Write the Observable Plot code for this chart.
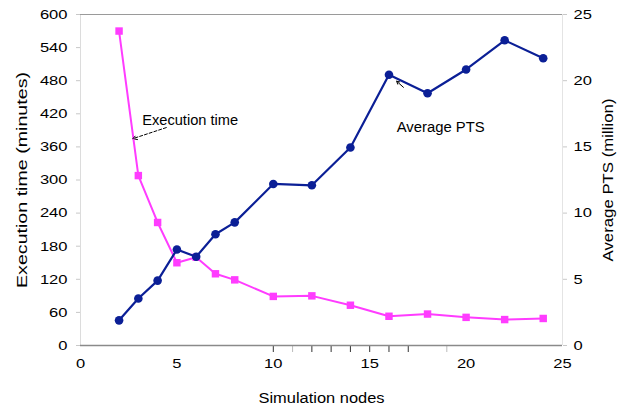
<!DOCTYPE html>
<html>
<head>
<meta charset="utf-8">
<script src="https://cdn.jsdelivr.net/npm/d3@7"></script>
<script src="https://cdn.jsdelivr.net/npm/@observablehq/plot@0.6"></script>
<style>
  html, body { margin: 0; padding: 0; background: #fff; }
  #chart svg { display: block; }
</style>
</head>
<body>
<div id="chart"></div>
<script>
// ---- data ----
const nodes = [2, 3, 4, 5, 6, 7, 8, 10, 12, 14, 16, 18, 20, 22, 24];
const execTime = [570, 308, 223, 150, 160, 130, 119, 89, 90, 73, 53, 57, 51, 47, 49];
const avgPts = [1.9, 3.55, 4.9, 7.25, 6.7, 8.4, 9.3, 12.2, 12.1, 14.95, 20.45, 19.05, 20.85, 23.05, 21.7];

const xTicks = [0, 5, 10, 15, 20, 25];
const leftTicks = [0, 60, 120, 180, 240, 300, 360, 420, 480, 540, 600];
const rightTicks = [0, 5, 10, 15, 20, 25];
const strayTicksDark = [10, 12, 13, 14, 15, 16, 17];
const strayTicksLight = [11, 19];

const xTitle = "Simulation nodes";
const leftTitle = "Execution time (minutes)";
const rightTitle = "Average PTS (million)";

// annotations (data coordinates; y on left scale)
const execLabel = [{x: 3.2, y: 408, text: "Execution time"}];
const execArrow = [{x1: 4.45, y1: 395, x2: 2.72, y2: 375}];
const ptsLabel = [{x: 16.4, y: 395, text: "Average PTS"}];
const ptsArrow = [{x1: 16.75, y1: 468, x2: 16.4, y2: 479}];

const k = 600 / 25; // right axis -> left axis factor

const execData = nodes.map((n, i) => ({n, v: execTime[i]}));
const ptsData = nodes.map((n, i) => ({n, v: avgPts[i] * k}));

const pink = "#ff3cff";
const navy = "#0b1f96";

const chart = Plot.plot({
  width: 626,
  height: 411,
  marginLeft: 80,
  marginRight: 64,
  marginTop: 14,
  marginBottom: 66,
  style: {fontFamily: "'Liberation Sans', Arial, sans-serif", fontSize: "14px", color: "#000", background: "#fff"},
  x: {domain: [0, 25]},
  y: {domain: [0, 600]},
  marks: [
    // frame lines
    Plot.ruleX([0], {stroke: "#dcdcdc", strokeWidth: 1}),
    Plot.ruleX([25], {stroke: "#e4e4e4", strokeWidth: 1}),
    Plot.ruleY([600], {stroke: "#9a9a9a", strokeWidth: 1}),
    // stray ticks on x axis
    Plot.axisX(strayTicksDark, {tickSize: 7, tickFormat: () => "", stroke: "#333", label: null}),
    Plot.axisX(strayTicksLight, {tickSize: 7, tickFormat: () => "", stroke: "#bbb", label: null}),
    Plot.ruleY([0], {stroke: "#8a8a8a", strokeWidth: 1.5}),
    // axes
    Plot.axisY(leftTicks, {anchor: "left", tickSize: 4, tickPadding: 9, stroke: "#c8c8c8", fill: "#000", label: null, fontSize: 13.5}),
    Plot.axisY(rightTicks.map(d => d * k), {anchor: "right", tickSize: 4, tickPadding: 7, stroke: "#c8c8c8", fill: "#000", tickFormat: d => d / k, label: null, fontSize: 13.5}),
    Plot.axisX(xTicks, {tickSize: 0, tickPadding: 13, fill: "#000", label: null, fontSize: 13.5}),
    // titles
    Plot.text([leftTitle], {frameAnchor: "left", textAnchor: "middle", text: d => d, rotate: -90, dx: -58, fontSize: 14}),
    Plot.text([rightTitle], {frameAnchor: "right", textAnchor: "middle", text: d => d, rotate: -90, dx: 46, fontSize: 14}),
    Plot.text([xTitle], {frameAnchor: "bottom", text: d => d, dy: 57, fontSize: 14}),
    // series
    Plot.line(execData, {x: "n", y: "v", stroke: pink, strokeWidth: 2}),
    Plot.dot(execData, {x: "n", y: "v", symbol: "square", r: 4.2, fill: pink, stroke: "none"}),
    Plot.line(ptsData, {x: "n", y: "v", stroke: navy, strokeWidth: 2.2}),
    Plot.dot(ptsData, {x: "n", y: "v", r: 4.3, fill: navy, stroke: "none"}),
    // annotations
    Plot.arrow(execArrow, {x1: "x1", y1: "y1", x2: "x2", y2: "y2", stroke: "#000", strokeWidth: 1, strokeDasharray: "3,2", headLength: 7}),
    Plot.text(execLabel, {x: "x", y: "y", text: "text", textAnchor: "start", fontSize: 14}),
    Plot.arrow(ptsArrow, {x1: "x1", y1: "y1", x2: "x2", y2: "y2", stroke: "#000", strokeWidth: 1, headLength: 6}),
    Plot.text(ptsLabel, {x: "x", y: "y", text: "text", textAnchor: "start", fontSize: 14})
  ]
});

// the reference's lettering is stretched along the baseline; match its measured widths
const widths = {};
widths[leftTitle] = 216;
widths[rightTitle] = 163;
widths[xTitle] = 126;
widths["Execution time"] = 96;
widths["Average PTS"] = 88;
chart.querySelectorAll("text").forEach(t => {
  const s = t.textContent.trim();
  let w = widths[s];
  if (w == null && /^\d+$/.test(s)) w = s.length * 9.2;
  if (w != null) {
    t.setAttribute("textLength", w);
    t.setAttribute("lengthAdjust", "spacingAndGlyphs");
  }
});

document.getElementById("chart").appendChild(chart);
</script>
</body>
</html>
